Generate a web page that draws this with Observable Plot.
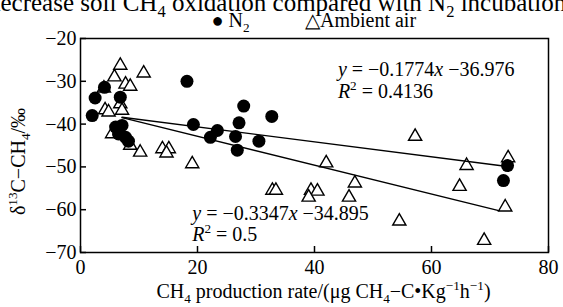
<!DOCTYPE html>
<html><head><meta charset="utf-8">
<script src="https://cdn.jsdelivr.net/npm/d3@7"></script>
<script src="https://cdn.jsdelivr.net/npm/@observablehq/plot@0.6"></script>
<style>
body{margin:0;background:#fff;overflow:hidden}
#chart svg, #chart svg text, #chart svg g { font-family: "Liberation Serif", "Times New Roman", serif !important; }
</style>
</head><body><div id="chart"></div>
<script>
// N2 incubation (filled circles)
const n2X = [2.0, 2.5, 4.1, 6.8, 6.0, 7.1, 6.5, 7.7, 8.2, 18.2, 19.3, 27.9, 32.7, 27.1, 23.4, 22.2, 26.5, 30.5, 26.8, 73.0, 72.3];
const n2Y = [-38.0, -33.9, -31.4, -33.7, -40.7, -40.3, -42.3, -43.1, -44.0, -30.0, -40.1, -35.8, -38.2, -39.7, -41.5, -43.1, -42.9, -44.0, -46.1, -49.7, -53.2];
// Ambient air incubation (open triangles)
const airX = [6.8, 10.8, 5.8, 7.7, 8.5, 4.0, 6.8, 7.1, 4.2, 4.8, 5.4, 8.5, 10.2, 14.0, 15.1, 14.7, 19.1, 32.8, 33.4, 39.4, 40.5, 39.0, 45.9, 42.0, 46.9, 54.5, 57.2, 66.0, 73.1, 64.8, 72.6, 69.0];
const airY = [-26.3, -28.1, -29.0, -30.7, -31.2, -31.6, -35.3, -36.8, -36.7, -37.2, -42.3, -45.0, -46.6, -45.8, -45.8, -46.8, -49.3, -55.5, -55.5, -55.5, -55.7, -57.1, -57.1, -49.1, -53.8, -62.7, -42.9, -49.7, -47.9, -54.6, -59.4, -67.2];
// fitted lines (end points)
const fitN2X = [7.1, 72.3];
const fitN2Y = [-38.4, -49.8];
const fitAirX = [7.1, 71.5];
const fitAirY = [-38.5, -60.2];
// ticks
const xTicks = [0, 20, 40, 60, 80];
const yTicks = [-70, -60, -50, -40, -30, -20];
// texts
const eqN2 = ["*y* = −0.1774*x* −36.976", "*R*^{2} = 0.4136"];
const eqAir = ["*y* = −0.3347*x* −34.895", "*R*^{2} = 0.5"];
const legendN2 = "● N_{2}";
const legendAir = "△Ambient air";
const xLabel = "CH_{4} production rate/(μg CH_{4}−C•Kg^{−1}h^{−1})";
const yLabel = "δ^{13}C−CH_{4}/‰";
const caption = "decrease soil CH_{4} oxidation compared with N_{2} incubation";

const n2 = n2X.map((x, i) => ({x, y: n2Y[i]}));
const air = airX.map((x, i) => ({x, y: airY[i]}));
const fits = [
  ...fitN2X.map((x, i) => ({x, y: fitN2Y[i], s: "N2"})),
  ...fitAirX.map((x, i) => ({x, y: fitAirY[i], s: "air"}))
];

const W = 563, H = 307, mt = 38, mr = 15, mb = 55, ml = 80;
const pw = W - ml - mr, ph = H - mt - mb;
const FF = '"Liberation Serif", "Times New Roman", serif';

const chart = Plot.plot({
  width: W, height: H,
  marginTop: mt, marginRight: mr, marginBottom: mb, marginLeft: ml,
  style: {fontFamily: FF, fontSize: "20px", color: "#000", background: "#fff", overflow: "visible"},
  x: {domain: [0, 80]},
  y: {domain: [-70, -20]},
  marks: [
    Plot.axisX({ticks: xTicks, tickSize: 0, tickPadding: 7, label: null, fontSize: 20, fontFamily: FF}),
    Plot.axisY({ticks: yTicks, tickSize: 0, tickPadding: 4, label: null, fontSize: 20, fontFamily: FF}),
    Plot.tickY(yTicks, {y: d => d, insetRight: pw - 6, stroke: "#000", strokeWidth: 1.5}),
    Plot.tickX(xTicks, {x: d => d, insetTop: ph - 6, stroke: "#000", strokeWidth: 1.5}),
    Plot.dot(air, {x: "x", y: "y", symbol: "triangle", r: 4.9, fill: "#fff", stroke: "#000", strokeWidth: 1.4}),
    Plot.line(fits, {x: "x", y: "y", z: "s", stroke: "#000", strokeWidth: 1.4}),
    Plot.dot(n2, {x: "x", y: "y", r: 6.5, fill: "#000", stroke: null}),
    Plot.frame({stroke: "#000", strokeWidth: 1.5}),
    Plot.text(eqN2, {x: 44.0, y: (d, i) => [-27.2, -32.4][i], text: d => d, textAnchor: "start", lineAnchor: "middle", fontSize: 20, fontFamily: FF}),
    Plot.text(eqAir, {x: 19.1, y: (d, i) => [-61.0, -65.8][i], text: d => d, textAnchor: "start", lineAnchor: "middle", fontSize: 20, fontFamily: FF}),
    Plot.text([legendN2], {frameAnchor: "top-left", dx: 150, dy: -18, textAnchor: "middle", lineAnchor: "middle", fontSize: 20, fontFamily: FF}),
    Plot.text([legendAir], {frameAnchor: "top-left", dx: 280, dy: -18, textAnchor: "middle", lineAnchor: "middle", fontSize: 20, fontFamily: FF}),
    Plot.text([caption], {frameAnchor: "top-left", dx: -92.5, dy: -35.5, textAnchor: "start", lineAnchor: "middle", fontSize: 25, fontFamily: FF}),
    Plot.text([xLabel], {frameAnchor: "bottom", dx: 9, dy: 39, textAnchor: "middle", lineAnchor: "middle", fontSize: 20, fontFamily: FF}),
    Plot.text([yLabel], {frameAnchor: "left", dx: -62, dy: 16, rotate: -90, textAnchor: "middle", lineAnchor: "middle", fontSize: 20, fontFamily: FF})
  ]
});
document.getElementById("chart").appendChild(chart);

// turn simple markup into tspans (subscript, superscript, italic)
function richify(svg) {
  svg.querySelectorAll("text").forEach(t => {
    const s = t.textContent;
    if (!/[_^*]/.test(s)) return;
    const fs = parseFloat(getComputedStyle(t).fontSize) || 18;
    const re = /_\{([^}]*)\}|\^\{([^}]*)\}|\*([^*]*)\*|([^_^*]+)/g;
    const toks = [];
    let m;
    while ((m = re.exec(s))) {
      if (m[1] != null) toks.push({t: m[1], k: "sub"});
      else if (m[2] != null) toks.push({t: m[2], k: "sup"});
      else if (m[3] != null) toks.push({t: m[3], k: "it"});
      else toks.push({t: m[4], k: "n"});
    }
    t.textContent = "";
    let shift = 0;
    for (const tok of toks) {
      const sp = document.createElementNS("http://www.w3.org/2000/svg", "tspan");
      sp.textContent = tok.t;
      const target = tok.k === "sub" ? 0.25 * fs : tok.k === "sup" ? -0.38 * fs : 0;
      if (target !== shift) sp.setAttribute("dy", target - shift);
      shift = target;
      if (tok.k === "sub" || tok.k === "sup") sp.setAttribute("font-size", 0.66 * fs);
      if (tok.k === "it") sp.setAttribute("font-style", "italic");
      t.appendChild(sp);
    }
  });
}
richify(chart);
</script>
</body></html>
